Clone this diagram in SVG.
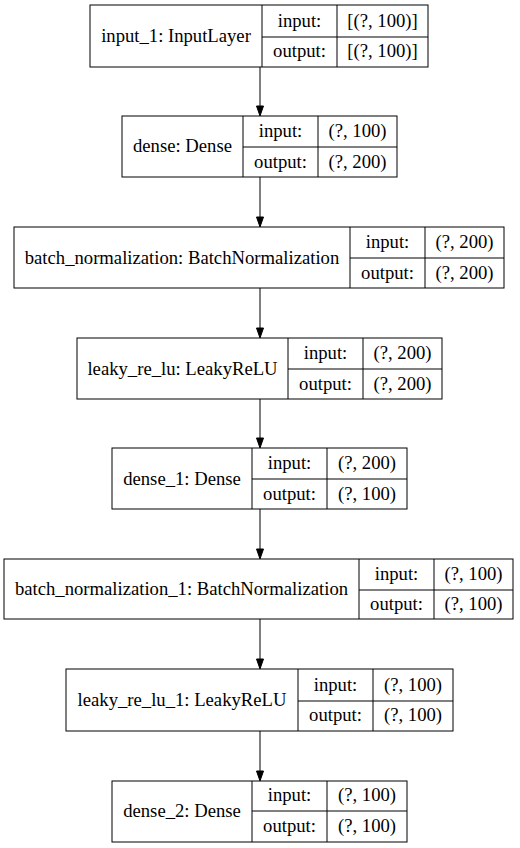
<svg xmlns="http://www.w3.org/2000/svg" width="520" height="848" viewBox="0 0 520 848">
<defs>
<style>
.b{fill:#fff;stroke:#000;stroke-width:1}
.l{stroke:#000;stroke-width:1;fill:none}
.e{stroke:#000;stroke-width:1;fill:none}
.h{fill:#000;stroke:#000;stroke-width:1}
</style>
</defs>
<rect width="520" height="848" fill="#fff"/>
<g id="connectors">
<line class="e" x1="260" y1="67" x2="260" y2="107"/><polygon class="h" points="256.5,106 263.5,106 260,116"/>
<line class="e" x1="260" y1="177" x2="260" y2="217"/><polygon class="h" points="256.5,217 263.5,217 260,227"/>
<line class="e" x1="260" y1="288" x2="260" y2="328"/><polygon class="h" points="256.5,328 263.5,328 260,338"/>
<line class="e" x1="260" y1="399" x2="260" y2="439"/><polygon class="h" points="256.5,438 263.5,438 260,448"/>
<line class="e" x1="260" y1="509" x2="260" y2="549"/><polygon class="h" points="256.5,549 263.5,549 260,559"/>
<line class="e" x1="260" y1="619" x2="260" y2="659"/><polygon class="h" points="256.5,659 263.5,659 260,669"/>
<line class="e" x1="260" y1="731" x2="260" y2="771"/><polygon class="h" points="256.5,771 263.5,771 260,781"/>
</g>
<g id="input_1" text-anchor="middle" fill="#000">
<rect class="b" x="90" y="5" width="338" height="62"/>
<line class="l" x1="262" y1="5" x2="262" y2="67"/><line class="l" x1="337" y1="5" x2="337" y2="67"/><line class="l" x1="262" y1="37" x2="428" y2="37"/>
<text x="176" y="41.5" style="font-family:'Liberation Serif',serif;font-size:18.67px">input_1: InputLayer</text>
<text x="299.5" y="26.5" style="font-family:'Liberation Serif',serif;font-size:18.67px">input:</text><text x="382.5" y="26.5" style="font-family:'Liberation Serif',serif;font-size:18.67px">[(?, 100)]</text>
<text x="299.5" y="57" style="font-family:'Liberation Serif',serif;font-size:18.67px">output:</text><text x="382.5" y="57" style="font-family:'Liberation Serif',serif;font-size:18.67px">[(?, 100)]</text>
</g>
<g id="dense" text-anchor="middle" fill="#000">
<rect class="b" x="122" y="116" width="275" height="61"/>
<line class="l" x1="243" y1="116" x2="243" y2="177"/><line class="l" x1="318" y1="116" x2="318" y2="177"/><line class="l" x1="243" y1="147" x2="397" y2="147"/>
<text x="182.5" y="152" style="font-family:'Liberation Serif',serif;font-size:18.67px">dense: Dense</text>
<text x="280.5" y="137" style="font-family:'Liberation Serif',serif;font-size:18.67px">input:</text><text x="357.5" y="137" style="font-family:'Liberation Serif',serif;font-size:18.67px">(?, 100)</text>
<text x="280.5" y="167.5" style="font-family:'Liberation Serif',serif;font-size:18.67px">output:</text><text x="357.5" y="167.5" style="font-family:'Liberation Serif',serif;font-size:18.67px">(?, 200)</text>
</g>
<g id="batch_normalization" text-anchor="middle" fill="#000">
<rect class="b" x="14" y="227" width="490" height="61"/>
<line class="l" x1="350" y1="227" x2="350" y2="288"/><line class="l" x1="425" y1="227" x2="425" y2="288"/><line class="l" x1="350" y1="258" x2="504" y2="258"/>
<text x="182" y="263.5" style="font-family:'Liberation Serif',serif;font-size:18.67px">batch_normalization: BatchNormalization</text>
<text x="387.5" y="248" style="font-family:'Liberation Serif',serif;font-size:18.67px">input:</text><text x="464.5" y="248" style="font-family:'Liberation Serif',serif;font-size:18.67px">(?, 200)</text>
<text x="387.5" y="278.5" style="font-family:'Liberation Serif',serif;font-size:18.67px">output:</text><text x="464.5" y="278.5" style="font-family:'Liberation Serif',serif;font-size:18.67px">(?, 200)</text>
</g>
<g id="leaky_re_lu" text-anchor="middle" fill="#000">
<rect class="b" x="77" y="338" width="365" height="61"/>
<line class="l" x1="288" y1="338" x2="288" y2="399"/><line class="l" x1="363" y1="338" x2="363" y2="399"/><line class="l" x1="288" y1="369" x2="442" y2="369"/>
<text x="182.5" y="374.5" style="font-family:'Liberation Serif',serif;font-size:18.67px">leaky_re_lu: LeakyReLU</text>
<text x="325.5" y="359" style="font-family:'Liberation Serif',serif;font-size:18.67px">input:</text><text x="402.5" y="359" style="font-family:'Liberation Serif',serif;font-size:18.67px">(?, 200)</text>
<text x="325.5" y="389.5" style="font-family:'Liberation Serif',serif;font-size:18.67px">output:</text><text x="402.5" y="389.5" style="font-family:'Liberation Serif',serif;font-size:18.67px">(?, 200)</text>
</g>
<g id="dense_1" text-anchor="middle" fill="#000">
<rect class="b" x="112" y="448" width="295" height="61"/>
<line class="l" x1="252" y1="448" x2="252" y2="509"/><line class="l" x1="327" y1="448" x2="327" y2="509"/><line class="l" x1="252" y1="479" x2="407" y2="479"/>
<text x="182" y="484.5" style="font-family:'Liberation Serif',serif;font-size:18.67px">dense_1: Dense</text>
<text x="289.5" y="469" style="font-family:'Liberation Serif',serif;font-size:18.67px">input:</text><text x="367" y="469" style="font-family:'Liberation Serif',serif;font-size:18.67px">(?, 200)</text>
<text x="289.5" y="499.5" style="font-family:'Liberation Serif',serif;font-size:18.67px">output:</text><text x="367" y="499.5" style="font-family:'Liberation Serif',serif;font-size:18.67px">(?, 100)</text>
</g>
<g id="batch_normalization_1" text-anchor="middle" fill="#000">
<rect class="b" x="4" y="559" width="509" height="60"/>
<line class="l" x1="359" y1="559" x2="359" y2="619"/><line class="l" x1="434" y1="559" x2="434" y2="619"/><line class="l" x1="359" y1="590" x2="513" y2="590"/>
<text x="181.5" y="595" style="font-family:'Liberation Serif',serif;font-size:18.67px">batch_normalization_1: BatchNormalization</text>
<text x="396.5" y="580" style="font-family:'Liberation Serif',serif;font-size:18.67px">input:</text><text x="473.5" y="580" style="font-family:'Liberation Serif',serif;font-size:18.67px">(?, 100)</text>
<text x="396.5" y="610" style="font-family:'Liberation Serif',serif;font-size:18.67px">output:</text><text x="473.5" y="610" style="font-family:'Liberation Serif',serif;font-size:18.67px">(?, 100)</text>
</g>
<g id="leaky_re_lu_1" text-anchor="middle" fill="#000">
<rect class="b" x="66" y="669" width="387" height="62"/>
<line class="l" x1="298" y1="669" x2="298" y2="731"/><line class="l" x1="373" y1="669" x2="373" y2="731"/><line class="l" x1="298" y1="701" x2="453" y2="701"/>
<text x="182" y="706" style="font-family:'Liberation Serif',serif;font-size:18.67px">leaky_re_lu_1: LeakyReLU</text>
<text x="335.5" y="690.5" style="font-family:'Liberation Serif',serif;font-size:18.67px">input:</text><text x="413" y="690.5" style="font-family:'Liberation Serif',serif;font-size:18.67px">(?, 100)</text>
<text x="335.5" y="721" style="font-family:'Liberation Serif',serif;font-size:18.67px">output:</text><text x="413" y="721" style="font-family:'Liberation Serif',serif;font-size:18.67px">(?, 100)</text>
</g>
<g id="dense_2" text-anchor="middle" fill="#000">
<rect class="b" x="112" y="781" width="295" height="61"/>
<line class="l" x1="252" y1="781" x2="252" y2="842"/><line class="l" x1="327" y1="781" x2="327" y2="842"/><line class="l" x1="252" y1="811" x2="407" y2="811"/>
<text x="182" y="816.5" style="font-family:'Liberation Serif',serif;font-size:18.67px">dense_2: Dense</text>
<text x="289.5" y="801" style="font-family:'Liberation Serif',serif;font-size:18.67px">input:</text><text x="367" y="801" style="font-family:'Liberation Serif',serif;font-size:18.67px">(?, 100)</text>
<text x="289.5" y="832" style="font-family:'Liberation Serif',serif;font-size:18.67px">output:</text><text x="367" y="832" style="font-family:'Liberation Serif',serif;font-size:18.67px">(?, 100)</text>
</g>
</svg>
